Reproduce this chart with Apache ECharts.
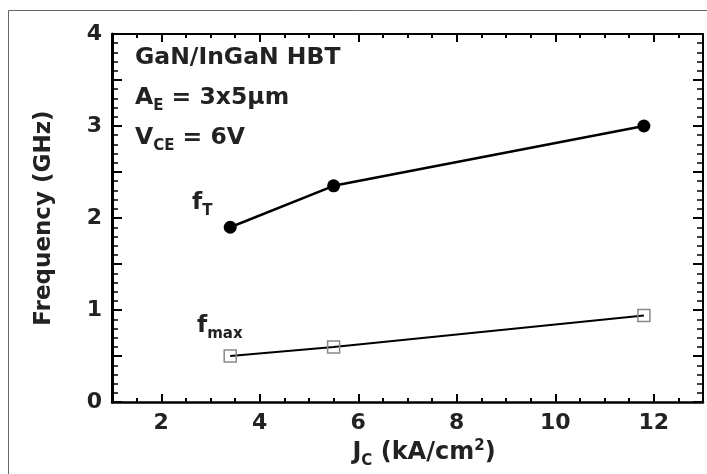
<!DOCTYPE html>
<html>
<head>
<meta charset="utf-8">
<script src="https://cdn.jsdelivr.net/npm/echarts@6/dist/echarts.min.js"></script>
<style>
  html, body { margin: 0; padding: 0; background: #fff; }
  #chart { width: 707px; height: 474px; }
</style>
</head>
<body>
<div id="chart"></div>
<script>
// values
var jc = [3.4, 5.5, 11.8];
var fT = [1.9, 2.35, 3.0];
var fmax = [0.5, 0.6, 0.94];
var xTicks = [2, 4, 6, 8, 10, 12];
var yTicks = [0, 1, 2, 3, 4];

var font = 'DejaVu Sans';
var ink = '#222';

function pairs(xs, ys) {
  return xs.map(function (x, i) { return [x, ys[i]]; });
}

// x axis: short ticks every 0.5, long ticks at the labelled values
function xAx(pos, major, withLine) {
  var ax = {
    type: 'value',
    position: pos,
    min: 1,
    max: 13,
    splitLine: { show: false },
    axisLine: { show: withLine, onZero: false, lineStyle: { color: '#000', width: pos == 'bottom' ? 2.5 : 2 } },
    axisLabel: { show: false },
    axisTick: { show: true, inside: true, length: 4, lineStyle: { color: '#000', width: 2 } }
  };
  if (major) {
    ax.axisTick.customValues = xTicks;
    ax.axisTick.length = 8;
  } else {
    ax.interval = 0.5;
  }
  return ax;
}

function yAx(pos) {
  return {
    type: 'value',
    position: pos,
    min: 0,
    max: 4,
    interval: 0.5,
    splitLine: { show: false },
    axisLine: { show: true, onZero: false, lineStyle: { color: '#000', width: pos == 'left' ? 3 : 2 } },
    axisTick: { show: true, inside: true, length: 10, lineStyle: { color: '#000', width: 2 } },
    minorTick: { show: true, splitNumber: 5, length: 6, lineStyle: { color: '#000', width: 1.5 } },
    axisLabel: { show: false }
  };
}

var xBottomMajor = xAx('bottom', true, false);
xBottomMajor.axisLabel = {
  show: true,
  customValues: xTicks,
  margin: 10,
  color: ink,
  fontFamily: font,
  fontWeight: 'bold',
  fontSize: 22
};
xBottomMajor.name = '{b|J}{s|C}{b| (kA/cm}{sup|2}{b|)}';
xBottomMajor.nameLocation = 'middle';
xBottomMajor.nameGap = 31;
xBottomMajor.nameTextStyle = {
  padding: [0, 0, 0, 33],
  rich: {
    b: { fontFamily: font, fontWeight: 'bold', fontSize: 24, color: ink },
    s: { fontFamily: font, fontWeight: 'bold', fontSize: 15, color: ink, verticalAlign: 'bottom', padding: [0, 0, -4, 0] },
    sup: { fontFamily: font, fontWeight: 'bold', fontSize: 15, color: ink, verticalAlign: 'top', padding: [-2, 0, 0, 0] }
  }
};

var yLeft = yAx('left');
yLeft.axisLabel = {
  show: true,
  customValues: yTicks,
  margin: 10,
  color: ink,
  fontFamily: font,
  fontWeight: 'bold',
  fontSize: 22
};
yLeft.name = 'Frequency (GHz)';
yLeft.nameLocation = 'middle';
yLeft.nameGap = 56;
yLeft.nameTextStyle = { fontFamily: font, fontWeight: 'bold', fontSize: 23, color: ink };

var sub = { fontFamily: font, fontWeight: 'bold', fontSize: 15, fill: ink, verticalAlign: 'bottom', padding: [0, 0, -4, 0] };
var big = { fontFamily: font, fontWeight: 'bold', fontSize: 23.5, fill: ink };

function note(x, y, text) {
  return {
    type: 'text',
    x: x,
    y: y,
    style: {
      text: text,
      verticalAlign: 'middle',
      rich: { b: big, s: sub }
    }
  };
}

var option = {
  backgroundColor: '#fff',
  animation: false,
  grid: { left: 112, right: 4, top: 34, bottom: 66 },
  xAxis: [xAx('bottom', false, true), xBottomMajor, xAx('top', false, true), xAx('top', true, false)],
  yAxis: [yLeft, yAx('right')],
  graphic: [
    {
      type: 'rect',
      shape: { x: 8.5, y: 10.5, width: 720, height: 480 },
      style: { fill: 'none', stroke: '#666', lineWidth: 1 },
      silent: true
    },
    note(135, 58, '{b|GaN/InGaN HBT}'),
    note(135, 98, '{b|A}{s|E}{b| = 3x5μm}'),
    note(135, 138, '{b|V}{s|CE}{b| = 6V}'),
    note(192, 203, '{b|f}{s|T}'),
    note(197, 326, '{b|f}{s|max}')
  ],
  series: [
    {
      name: 'fT',
      type: 'line',
      xAxisIndex: 0,
      yAxisIndex: 0,
      data: pairs(jc, fT),
      symbol: 'circle',
      symbolSize: 13,
      lineStyle: { color: '#000', width: 2.5 },
      itemStyle: { color: '#000' }
    },
    {
      name: 'fmax',
      type: 'line',
      xAxisIndex: 0,
      yAxisIndex: 0,
      data: pairs(jc, fmax),
      symbol: 'rect',
      symbolSize: 12,
      lineStyle: { color: '#000', width: 2 },
      itemStyle: { color: 'rgba(255,255,255,0)', borderColor: '#888', borderWidth: 1.5 }
    }
  ]
};

var chart = echarts.init(document.getElementById('chart'));
chart.setOption(option);
</script>
</body>
</html>
